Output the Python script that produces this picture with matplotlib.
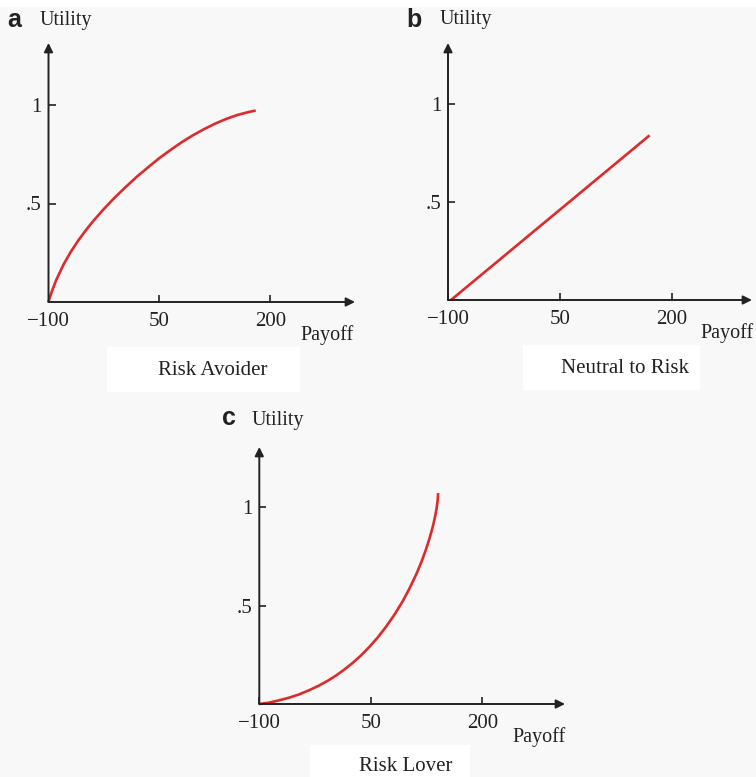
import numpy as np
import matplotlib.pyplot as plt
from matplotlib.patches import Rectangle

plt.rcParams['font.family'] = ['Liberation Serif', 'DejaVu Serif']

W, H = 756, 777

# a) kockázatkerülő görbe (leolvasott pontok)
avoider_x = [-100, -97.5, -95, -90, -80, -70, -60, -50, -40, -25, -10, 5, 20,
             35, 50, 65, 80, 95, 110, 125, 140, 155, 170, 180]
avoider_y = [0, 0.032, 0.058, 0.108, 0.188, 0.254, 0.311, 0.362, 0.409, 0.473, 0.532, 0.586, 0.638,
             0.685, 0.731, 0.772, 0.811, 0.846, 0.877, 0.905, 0.929, 0.949, 0.964, 0.972]

# b) kockázatsemleges egyenes
neutral_x = [-96, 170]
neutral_y = [0, 0.84]

# c) kockázatkedvelő görbe
lover_x = [-100, -88, -74, -60, -47, -33, -20, -8, 3, 14, 25, 36, 48, 59, 70,
           82, 93, 102, 111, 118, 124, 129, 133, 136, 138.5, 140, 140.6]
lover_y = [0, 0.006, 0.018, 0.032, 0.048, 0.07, 0.093, 0.118, 0.144, 0.174, 0.207, 0.244, 0.29, 0.337, 0.39,
           0.455, 0.523, 0.587, 0.658, 0.721, 0.783, 0.842, 0.896, 0.944, 0.994, 1.036, 1.072]

x_ticks = [-100, 50, 200]
x_labels = ['\u2212100', '50', '200']
y_ticks = [0.5, 1]
y_labels = ['.5', '1']

RED = '#dc2b2b'
INK = '#222222'


def fx(px):
    return px / W


def fy(py):
    return 1 - py / H


def panel(fig, box, xscale, yscale, xs, ys, letter, letter_pos, util_pos,
          payoff_pos, caption, caption_pos):
    left, top, right, bottom = box
    ax = fig.add_axes([fx(left), fy(bottom), (right - left) / W, (bottom - top) / H])
    ax.set_facecolor('none')
    ax.set_xlim(-100, -100 + (right - left) / xscale)
    ax.set_ylim(0, (bottom - top) / yscale)
    for s in ax.spines.values():
        s.set_visible(False)

    # tengelyek nyíllal
    arrow = dict(arrowstyle='-|>', color=INK, lw=1.4, mutation_scale=13,
                 shrinkA=0, shrinkB=0)
    ax.annotate('', xy=(1, 0), xytext=(0, 0), xycoords='axes fraction', arrowprops=arrow)
    ax.annotate('', xy=(0, 1), xytext=(0, 0), xycoords='axes fraction', arrowprops=arrow)

    ax.set_xticks(x_ticks, x_labels)
    ax.set_yticks(y_ticks, y_labels)
    ax.tick_params(axis='x', direction='in', length=5, width=1.2, color=INK,
                   pad=7, labelsize=15, labelcolor=INK)
    ax.tick_params(axis='y', direction='in', length=5, width=1.2, color=INK,
                   pad=5, labelsize=15, labelcolor=INK)

    ax.plot(xs, ys, color=RED, lw=1.9, solid_capstyle='butt',
            solid_joinstyle='round', clip_on=False)

    fig.text(fx(letter_pos[0]), fy(letter_pos[1]), letter, family='Liberation Sans',
             weight='bold', fontsize=18, ha='center', va='baseline', color=INK)
    fig.text(fx(util_pos[0]), fy(util_pos[1]), 'Utility', fontsize=14.5,
             ha='left', va='baseline', color=INK)
    fig.text(fx(payoff_pos[0]), fy(payoff_pos[1]), 'Payoff', fontsize=14.5,
             ha='left', va='baseline', color=INK)
    fig.text(fx(caption_pos[0]), fy(caption_pos[1]), caption, fontsize=15,
             ha='center', va='baseline', color=INK)
    return ax


fig = plt.figure(figsize=(W / 100, H / 100), dpi=100, facecolor='#f8f8f8')

# fehér foltok a képaláírások mögött
for (x0, y0, x1, y1) in [(0, 0, 756, 7), (107, 347, 300, 392), (523, 345, 700, 390),
                         (310, 745, 470, 777)]:
    fig.patches.append(Rectangle((fx(x0), fy(y1)), (x1 - x0) / W, (y1 - y0) / H,
                                 transform=fig.transFigure, facecolor='white',
                                 edgecolor='none', zorder=0))

panel(fig, (48.5, 43, 355, 302), 111 / 150, 197, avoider_x, avoider_y,
      'a', (14, 27), (40, 25), (300, 340), 'Risk Avoider', (212.5, 375))
panel(fig, (448, 43, 752, 300), 112 / 150, 196, neutral_x, neutral_y,
      'b', (414, 27), (440, 24), (700, 338), 'Neutral to Risk', (625, 373))
panel(fig, (259.3, 447, 565, 704), 111.5 / 150, 196.7, lover_x, lover_y,
      'c', (229, 425), (252, 425), (512, 742), 'Risk Lover', (406, 771))

fig.savefig('out.png', dpi=100, facecolor=fig.get_facecolor())
